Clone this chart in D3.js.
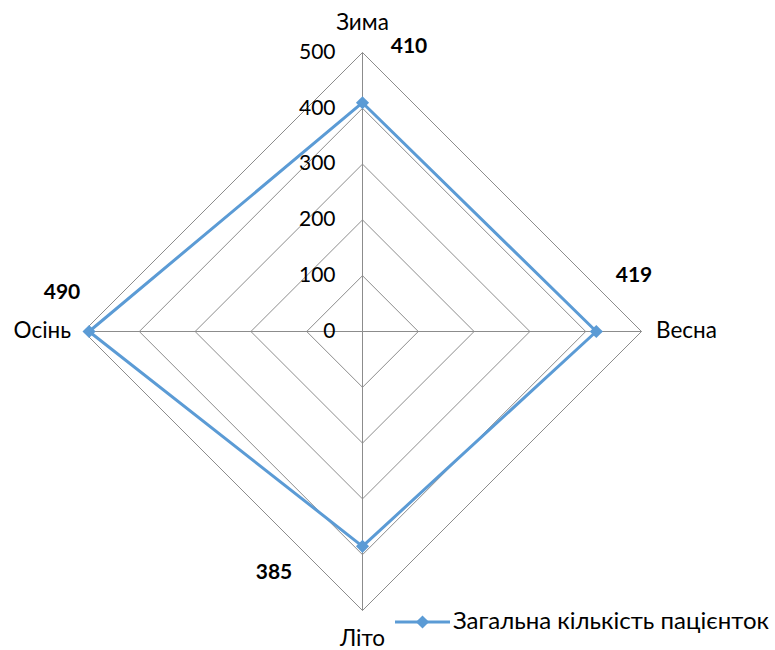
<!DOCTYPE html>
<html>
<head>
<meta charset="utf-8">
<script src="https://cdn.jsdelivr.net/npm/d3@7"></script>
<style>
  html, body { margin: 0; padding: 0; background: #fff; }
  svg { display: block; }
  text { font-family: Lato, sans-serif; fill: #000; }
</style>
</head>
<body>
<svg id="chart" width="775" height="650"></svg>
<script>
// Seasons clockwise from the top
const seasons = ["Зима", "Весна", "Літо", "Осінь"];
const patients = [410, 419, 385, 490];
const tickValues = [0, 100, 200, 300, 400, 500];
const seriesName = "Загальна кількість пацієнток";

const width = 775, height = 650;
const cx = 362.5, cy = 331.5;
const svg = d3.select("#chart");

const r = d3.scaleLinear().domain([0, 500]).range([0, 279]);
const angle = d3.scalePoint().domain(seasons).range([0, 2 * Math.PI * 3 / 4]);

const pt = (season, v) => {
  const a = angle(season) - Math.PI / 2;
  return [cx + r(v) * Math.cos(a), cy + r(v) * Math.sin(a)];
};

const grid = svg.append("g");
// concentric diamond rings
tickValues.filter(t => t > 0).forEach(t => {
  grid.append("path")
    .attr("d", d3.line()(seasons.map(s => pt(s, t))) + "Z")
    .attr("fill", "none")
    .attr("stroke", "#8c8c8c")
    .attr("stroke-width", 1);
});
// spokes
seasons.forEach(s => {
  const [x, y] = pt(s, 500);
  grid.append("line")
    .attr("x1", cx).attr("y1", cy).attr("x2", x).attr("y2", y)
    .attr("stroke", "#8c8c8c").attr("stroke-width", 1);
});

// value ticks along the top spoke
svg.append("g").selectAll("text").data(tickValues).join("text")
  .attr("x", cx - 27)
  .attr("y", d => cy - r(d) + 1)
  .attr("text-anchor", "end")
  .attr("dominant-baseline", "middle")
  .style("font-size", "21px")
  .text(d => d);

// series
const pts = seasons.map((s, i) => pt(s, patients[i]));
svg.append("path")
  .attr("d", d3.line()(pts) + "Z")
  .attr("fill", "none")
  .attr("stroke", "#5b9bd5")
  .attr("stroke-width", 3)
  .attr("stroke-linejoin", "round");

const diamond = d3.symbol().type(d3.symbolDiamond2).size(110);
svg.append("g").selectAll("path").data(pts).join("path")
  .attr("transform", d => `translate(${d[0]},${d[1]})`)
  .attr("d", diamond)
  .attr("fill", "#5b9bd5");

// category labels
const catPos = [
  { x: cx, y: 24, anchor: "middle" },
  { x: 656, y: cy + 1, anchor: "start" },
  { x: cx, y: 640, anchor: "middle" },
  { x: 71, y: cy + 1, anchor: "end" }
];
svg.append("g").selectAll("text").data(seasons).join("text")
  .attr("x", (d, i) => catPos[i].x)
  .attr("y", (d, i) => catPos[i].y)
  .attr("text-anchor", (d, i) => catPos[i].anchor)
  .attr("dominant-baseline", "middle")
  .style("font-size", "22.5px")
  .text(d => d);

// value labels
const valPos = [
  { x: 409, y: 48 }, { x: 634, y: 277 }, { x: 274, y: 574 }, { x: 62, y: 294 }
];
svg.append("g").selectAll("text").data(patients).join("text")
  .attr("x", (d, i) => valPos[i].x)
  .attr("y", (d, i) => valPos[i].y)
  .attr("text-anchor", "middle")
  .attr("dominant-baseline", "middle")
  .style("font-size", "21px")
  .style("font-weight", "bold")
  .text(d => d);

// legend
const lg = svg.append("g").attr("transform", "translate(395,622)");
lg.append("line").attr("x1", 0).attr("x2", 55).attr("y1", 0).attr("y2", 0)
  .attr("stroke", "#5b9bd5").attr("stroke-width", 3);
lg.append("path").attr("transform", "translate(27.5,0)").attr("d", diamond).attr("fill", "#5b9bd5");
lg.append("text").attr("x", 58).attr("y", 1)
  .attr("dominant-baseline", "middle")
  .style("font-size", "24px")
  .text(seriesName);
</script>
</body>
</html>
